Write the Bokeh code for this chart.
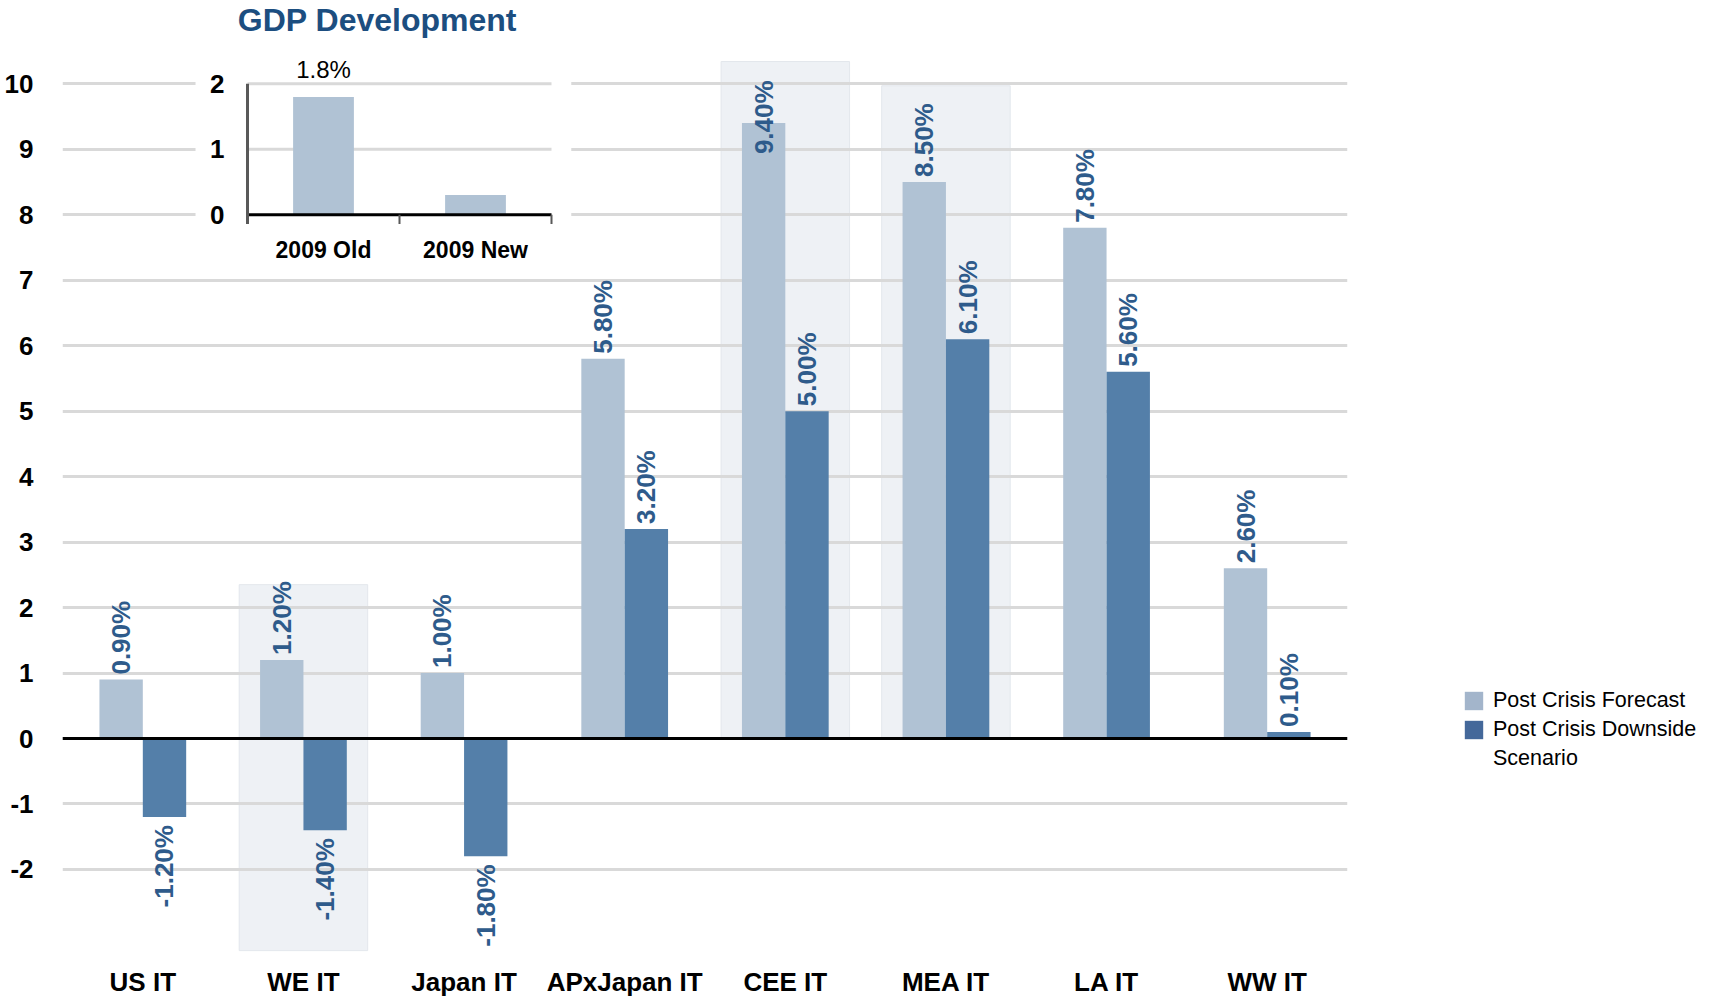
import numpy as np
from bokeh.plotting import figure
from bokeh.models import (ColumnDataSource, Range1d, FixedTicker, Span,
                          Legend, LegendItem)
from bokeh.core.properties import value
from bokeh.embed import file_html
from bokeh.resources import INLINE

# ---------------- data ----------------
categories = ["US IT", "WE IT", "Japan IT", "APxJapan IT", "CEE IT", "MEA IT", "LA IT", "WW IT"]
forecast = [0.9, 1.2, 1.0, 5.8, 9.4, 8.5, 7.8, 2.6]
downside = [-1.2, -1.4, -1.8, 3.2, 5.0, 6.1, 5.6, 0.1]
series_names = ["Post Crisis Forecast", "Post Crisis Downside", "Scenario"]
y_ticks = [-2, -1, 0, 1, 2, 3, 4, 5, 6, 7, 8, 9, 10]

highlight_cats = ["WE IT", "CEE IT", "MEA IT"]
highlight_top = [2.35, 10.34, 9.97]
highlight_bottom = [-3.24, 0.0, 0.0]

inset_title = "GDP Development"
inset_cats = ["2009 Old", "2009 New"]
inset_values = [1.8, 0.3]
inset_labels = ["1.8%", ""]
inset_ticks = [0, 1, 2]

# ---------------- styling ----------------
FONT = "Liberation Sans"
LIGHT = "#B0C2D4"
DARK = "#547FA9"
LEG_LIGHT = "#A3B5CB"
LEG_DARK = "#44689A"
LABEL_BLUE = "#2E5B8B"
GRID = "#D9D9D9"

PX_PER_UNIT = 65.47
ZERO_PX = 738.0
FRAME_H = 956
FRAME_W = 1285
y_end = ZERO_PX / PX_PER_UNIT
y_start = -(FRAME_H - ZERO_PX) / PX_PER_UNIT

# inset ranges: inset 0..2 aligned with main 8..10
INSET_BASE = 8
inset_left_px = 247 - 62
inset_unit_px = 152.0
ix0 = -inset_left_px / inset_unit_px

n_cat = len(categories)
xc = [i + 0.5 for i in range(n_cat)]
pos = {c: x for c, x in zip(categories, xc)}

p = figure(x_range=Range1d(0, n_cat), y_range=Range1d(y_start, y_end),
           frame_width=FRAME_W, frame_height=FRAME_H,
           min_border_left=62, min_border_right=367, min_border_top=0, min_border_bottom=36,
           output_backend="svg", toolbar_location=None)
p.extra_x_ranges = {"inset": Range1d(ix0, ix0 + FRAME_W / inset_unit_px)}
p.extra_y_ranges = {"inset": Range1d(y_start - INSET_BASE, y_end - INSET_BASE)}
p.outline_line_color = None
p.background_fill_color = "white"
p.border_fill_color = "white"

# axes / grid
p.xgrid.visible = False
p.ygrid.ticker = FixedTicker(ticks=y_ticks)
p.ygrid.grid_line_color = GRID
p.ygrid.grid_line_width = 3

p.yaxis.ticker = FixedTicker(ticks=y_ticks)
p.yaxis.major_label_overrides = {t: str(t) for t in y_ticks}
p.yaxis.axis_line_color = None
p.yaxis.major_tick_line_color = None
p.yaxis.minor_tick_line_color = None
p.yaxis.major_label_standoff = 23
p.yaxis.major_label_text_font = FONT
p.yaxis.major_label_text_font_style = "bold"
p.yaxis.major_label_text_font_size = "26px"
p.yaxis.major_label_text_color = "black"

p.xaxis.ticker = FixedTicker(ticks=xc)
p.xaxis.major_label_overrides = {x: c for x, c in zip(xc, categories)}
p.xaxis.axis_line_color = None
p.xaxis.major_tick_line_color = None
p.xaxis.minor_tick_line_color = None
p.xaxis.major_label_standoff = 4
p.xaxis.major_label_text_font = FONT
p.xaxis.major_label_text_font_style = "bold"
p.xaxis.major_label_text_font_size = "26px"
p.xaxis.major_label_text_color = "black"

# highlight boxes
p.vbar(x=[pos[c] for c in highlight_cats], bottom=highlight_bottom, top=highlight_top,
       width=0.8, fill_color="#EEF1F5", line_color="#E3E7EC", line_width=1, level="image")

# bars
OFF = 0.135
BW = 0.27
src = ColumnDataSource(dict(xf=[x - OFF for x in xc], xd=[x + OFF for x in xc],
                            forecast=forecast, downside=downside))
p.vbar(x="xf", top="forecast", bottom=0, width=BW, source=src,
       fill_color=LIGHT, line_color=None)
p.vbar(x="xd", top="downside", bottom=0, width=BW, source=src,
       fill_color=DARK, line_color=None)

p.add_layout(Span(location=0, dimension="width", line_color="black", line_width=3))

# bar value labels (rotated)
LABEL_LEN = 1.2    # approx label length in axis units
LABEL_CAP = 10.05  # labels are pushed down so they stay below this level
for offv, vals in ((-OFF, forecast), (OFF, downside)):
    for positive in (True, False):
        sel = [i for i, v in enumerate(vals) if (v >= 0) == positive]
        if not sel:
            continue
        ys = [min(vals[i], LABEL_CAP - LABEL_LEN) if positive else vals[i] for i in sel]
        s = ColumnDataSource(dict(x=[xc[i] + offv for i in sel], y=ys,
                                  t=[f"{vals[i]:.2f}%" for i in sel]))
        p.text(x="x", y="y", text="t", source=s,
               angle=np.pi / 2, text_align="left" if positive else "right",
               text_baseline="middle", y_offset=-5 if positive else 8,
               text_font=value(FONT), text_font_style="bold",
               text_font_size="26px", text_color=LABEL_BLUE)

# ---------------- inset ----------------
IR = dict(x_range_name="inset", y_range_name="inset")
p.quad(left=[-0.342], right=[2.13], bottom=[-0.8], top=[2.4],
       fill_color="white", line_color=None, **IR)
n_in = len(inset_cats)
p.segment(x0=[0] * (len(inset_ticks) - 1), x1=[n_in] * (len(inset_ticks) - 1),
          y0=inset_ticks[1:], y1=inset_ticks[1:], line_color=GRID, line_width=3, **IR)
ix = [i + 0.5 for i in range(n_in)]
p.vbar(x=ix, top=inset_values, bottom=0, width=0.4, fill_color=LIGHT, line_color=None, **IR)
p.segment(x0=[0], x1=[n_in], y0=[0], y1=[0], line_color="black", line_width=3, **IR)
p.segment(x0=list(range(n_in + 1)), x1=list(range(n_in + 1)), y0=[0] * (n_in + 1),
          y1=[-0.14] * (n_in + 1), line_color="#595959", line_width=2, **IR)
p.segment(x0=[0], x1=[0], y0=[-0.14], y1=[inset_ticks[-1]], line_color="#595959",
          line_width=3, **IR)
p.text(x=[0] * len(inset_ticks), y=inset_ticks, text=[str(t) for t in inset_ticks],
       x_offset=-23, text_align="right", text_baseline="middle",
       text_font=value(FONT), text_font_style="bold", text_font_size="26px",
       text_color="black", **IR)
p.text(x=ix, y=[0] * n_in, text=inset_cats, y_offset=35, text_align="center",
       text_baseline="middle", text_font=value(FONT), text_font_style="bold",
       text_font_size="23px", text_color="black", **IR)
p.text(x=ix, y=inset_values, text=inset_labels, y_offset=-27, text_align="center",
       text_baseline="alphabetic", text_font=value(FONT), text_font_size="24px",
       text_color="black", **IR)
p.text(x=[0.855], y=[2.97], text=[inset_title], text_align="center",
       text_baseline="middle", text_font=value(FONT), text_font_style="bold",
       text_font_size="32px", text_color="#1C4E80", **IR)

# ---------------- legend ----------------
nan = float("nan")
r1 = p.vbar(x=[nan], top=[nan], width=0.1, fill_color=LEG_LIGHT, line_color=None)
r2 = p.vbar(x=[nan], top=[nan], width=0.1, fill_color=LEG_DARK, line_color=None)
r3 = p.vbar(x=[nan], top=[nan], width=0.1, fill_alpha=0, line_alpha=0)
GH, LH, SP = 23, 21, 4
legend = Legend(items=[LegendItem(label=series_names[0], renderers=[r1]),
                       LegendItem(label=series_names[1], renderers=[r2]),
                       LegendItem(label=series_names[2], renderers=[r3])],
                location=(1462 - (62 + FRAME_W), FRAME_H - 771),
                glyph_width=GH, glyph_height=GH, label_height=LH,
                label_standoff=8, spacing=SP, padding=0, margin=0,
                border_line_alpha=0, background_fill_alpha=0,
                label_text_font=FONT, label_text_font_size="21.5px", label_text_color="black")
p.add_layout(legend, "right")

open("out.html", "w").write(file_html(p, INLINE))
